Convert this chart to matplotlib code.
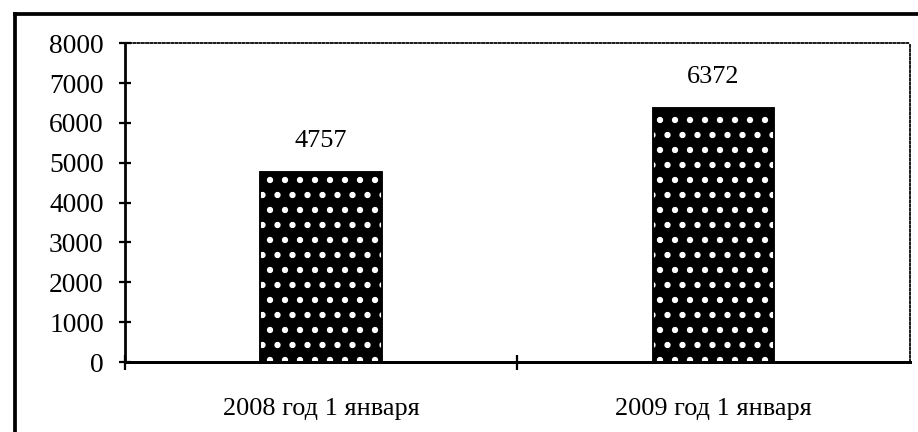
import matplotlib.pyplot as plt
from matplotlib.lines import Line2D

# data
categories = ['2008 год 1 января', '2009 год 1 января']
values = [4757, 6372]
y_ticks = [0, 1000, 2000, 3000, 4000, 5000, 6000, 7000, 8000]

plt.rcParams['font.family'] = ['Liberation Serif', 'DejaVu Serif']
plt.rcParams['hatch.linewidth'] = 2.6

dpi = 90
fig = plt.figure(figsize=(919 / dpi, 432 / dpi), dpi=dpi)
ax = fig.add_axes([0.136, 0.162, 0.854, 0.738])

x = list(range(len(categories)))
# black bars with a white dot pattern (drawn twice so the hatch can be white)
ax.bar(x, values, width=0.31, color='black', edgecolor='white', hatch='.', linewidth=0, zorder=2)
ax.bar(x, values, width=0.31, fill=False, edgecolor='black', linewidth=1.5, zorder=3)

for xi, v in zip(x, values):
    ax.annotate(str(v), (xi, v), xytext=(0, 16), textcoords='offset points',
                ha='center', va='bottom', fontsize=21)

ax.set_xlim(-0.5, 1.5)
ax.set_ylim(0, 8000)
ax.set_yticks(y_ticks)
ax.set_yticklabels([str(t) for t in y_ticks], fontsize=22)
ax.tick_params(axis='y', direction='inout', length=10, width=1.8, pad=12)

# category ticks between groups, labels centred under the bars
ax.set_xticks([-0.5, 0.5])
ax.set_xticklabels(['', ''])
ax.tick_params(axis='x', which='major', direction='inout', length=12, width=1.8)
ax.set_xticks(x, minor=True)
ax.set_xticklabels(categories, minor=True, fontsize=21)
ax.tick_params(axis='x', which='minor', length=0, pad=29)

ax.spines['left'].set_linewidth(2.2)
ax.spines['bottom'].set_linewidth(2.4)
for s in ['top', 'right']:
    ax.spines[s].set_linestyle((0, (1.2, 1.2)))
    ax.spines[s].set_linewidth(1.4)

# outer frame of the scanned figure (left and top edges visible)
fig.add_artist(Line2D([0.016, 0.016], [0.0, 0.968], transform=fig.transFigure, color='black', lw=3))
fig.add_artist(Line2D([0.016, 1.0], [0.968, 0.968], transform=fig.transFigure, color='black', lw=3))

fig.savefig('out.png', dpi=dpi)
